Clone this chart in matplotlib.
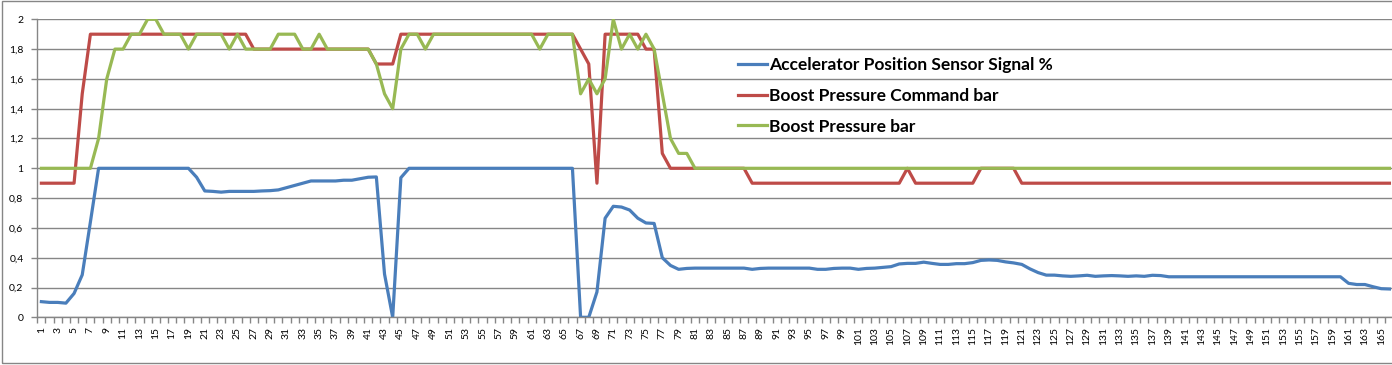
import matplotlib.pyplot as plt
from matplotlib.ticker import FixedLocator, FuncFormatter, NullFormatter
from matplotlib.patches import Rectangle

# Amostras (eixo X) e valores
samples = list(range(1, 167))
tick_labels = samples[::2]

series_names = ['Accelerator Position Sensor Signal %',
                'Boost Pressure Command bar',
                'Boost Pressure bar']

accelerator = [
    0.105, 0.10, 0.10, 0.095, 0.16, 0.285, 0.64, 1.0, 1.0, 1.0,
    1.0, 1.0, 1.0, 1.0, 1.0, 1.0, 1.0, 1.0, 1.0, 0.94,
    0.848, 0.845, 0.84, 0.845, 0.845, 0.845, 0.845, 0.848, 0.85, 0.855,
    0.87, 0.885, 0.90, 0.915, 0.915, 0.915, 0.915, 0.92, 0.92, 0.93,
    0.94, 0.942, 0.29, 0.0, 0.937, 1.0, 1.0, 1.0, 1.0, 1.0,
    1.0, 1.0, 1.0, 1.0, 1.0, 1.0, 1.0, 1.0, 1.0, 1.0,
    1.0, 1.0, 1.0, 1.0, 1.0, 1.0, 0.0, 0.0, 0.17, 0.665,
    0.745, 0.74, 0.72, 0.665, 0.633, 0.63, 0.40, 0.348, 0.322, 0.328,
    0.33, 0.33, 0.33, 0.33, 0.33, 0.33, 0.33, 0.322, 0.328, 0.33,
    0.33, 0.33, 0.33, 0.33, 0.33, 0.322, 0.322, 0.328, 0.33, 0.33,
    0.322, 0.328, 0.33, 0.335, 0.34, 0.358, 0.362, 0.362, 0.37, 0.362,
    0.355, 0.355, 0.36, 0.36, 0.367, 0.382, 0.385, 0.382, 0.372, 0.365,
    0.355, 0.325, 0.30, 0.283, 0.283, 0.278, 0.275, 0.278, 0.282, 0.275,
    0.278, 0.28, 0.278, 0.275, 0.278, 0.275, 0.282, 0.28, 0.272, 0.272,
    0.272, 0.272, 0.272, 0.272, 0.272, 0.272, 0.272, 0.272, 0.272, 0.272,
    0.272, 0.272, 0.272, 0.272, 0.272, 0.272, 0.272, 0.272, 0.272, 0.272,
    0.228, 0.22, 0.22, 0.205, 0.192, 0.19,
]

boost_command = [
    0.9, 0.9, 0.9, 0.9, 0.9, 1.5, 1.9, 1.9, 1.9, 1.9,
    1.9, 1.9, 1.9, 1.9, 1.9, 1.9, 1.9, 1.9, 1.9, 1.9,
    1.9, 1.9, 1.9, 1.9, 1.9, 1.9, 1.8, 1.8, 1.8, 1.8,
    1.8, 1.8, 1.8, 1.8, 1.8, 1.8, 1.8, 1.8, 1.8, 1.8,
    1.8, 1.7, 1.7, 1.7, 1.9, 1.9, 1.9, 1.9, 1.9, 1.9,
    1.9, 1.9, 1.9, 1.9, 1.9, 1.9, 1.9, 1.9, 1.9, 1.9,
    1.9, 1.9, 1.9, 1.9, 1.9, 1.9, 1.8, 1.7, 0.9, 1.9,
    1.9, 1.9, 1.9, 1.9, 1.8, 1.8, 1.1, 1.0, 1.0, 1.0,
    1.0, 1.0, 1.0, 1.0, 1.0, 1.0, 1.0, 0.9, 0.9, 0.9,
    0.9, 0.9, 0.9, 0.9, 0.9, 0.9, 0.9, 0.9, 0.9, 0.9,
    0.9, 0.9, 0.9, 0.9, 0.9, 0.9, 1.0, 0.9, 0.9, 0.9,
    0.9, 0.9, 0.9, 0.9, 0.9, 1.0, 1.0, 1.0, 1.0, 1.0,
    0.9, 0.9, 0.9, 0.9, 0.9, 0.9, 0.9, 0.9, 0.9, 0.9,
    0.9, 0.9, 0.9, 0.9, 0.9, 0.9, 0.9, 0.9, 0.9, 0.9,
    0.9, 0.9, 0.9, 0.9, 0.9, 0.9, 0.9, 0.9, 0.9, 0.9,
    0.9, 0.9, 0.9, 0.9, 0.9, 0.9, 0.9, 0.9, 0.9, 0.9,
    0.9, 0.9, 0.9, 0.9, 0.9, 0.9,
]

boost = [
    1.0, 1.0, 1.0, 1.0, 1.0, 1.0, 1.0, 1.2, 1.6, 1.8,
    1.8, 1.9, 1.9, 2.0, 2.0, 1.9, 1.9, 1.9, 1.8, 1.9,
    1.9, 1.9, 1.9, 1.8, 1.9, 1.8, 1.8, 1.8, 1.8, 1.9,
    1.9, 1.9, 1.8, 1.8, 1.9, 1.8, 1.8, 1.8, 1.8, 1.8,
    1.8, 1.7, 1.5, 1.4, 1.8, 1.9, 1.9, 1.8, 1.9, 1.9,
    1.9, 1.9, 1.9, 1.9, 1.9, 1.9, 1.9, 1.9, 1.9, 1.9,
    1.9, 1.8, 1.9, 1.9, 1.9, 1.9, 1.5, 1.6, 1.5, 1.6,
    2.0, 1.8, 1.9, 1.8, 1.9, 1.8, 1.5, 1.2, 1.1, 1.1,
    1.0, 1.0, 1.0, 1.0, 1.0, 1.0, 1.0, 1.0, 1.0, 1.0,
    1.0, 1.0, 1.0, 1.0, 1.0, 1.0, 1.0, 1.0, 1.0, 1.0,
    1.0, 1.0, 1.0, 1.0, 1.0, 1.0, 1.0, 1.0, 1.0, 1.0,
    1.0, 1.0, 1.0, 1.0, 1.0, 1.0, 1.0, 1.0, 1.0, 1.0,
    1.0, 1.0, 1.0, 1.0, 1.0, 1.0, 1.0, 1.0, 1.0, 1.0,
    1.0, 1.0, 1.0, 1.0, 1.0, 1.0, 1.0, 1.0, 1.0, 1.0,
    1.0, 1.0, 1.0, 1.0, 1.0, 1.0, 1.0, 1.0, 1.0, 1.0,
    1.0, 1.0, 1.0, 1.0, 1.0, 1.0, 1.0, 1.0, 1.0, 1.0,
    1.0, 1.0, 1.0, 1.0, 1.0, 1.0,
]

colors = ['#4A7EBB', '#BE4B48', '#98B954']
grid_color = '#868686'

W, H = 1392, 365
fig = plt.figure(figsize=(W / 100, H / 100), dpi=100)
plt.rcParams['font.family'] = ['Lato', 'DejaVu Sans']

# área do gráfico em pixels (o quadro continua para lá da margem direita)
left_px, top_px, bottom_px = 37.3, 19.3, 317.3
ax = fig.add_axes([left_px / W, (H - bottom_px) / H, 1 - left_px / W, (bottom_px - top_px) / H])

# moldura exterior do gráfico
fig.patches.append(Rectangle((2 / W, 2 / H), 1.2, (H - 3) / H, transform=fig.transFigure,
                             fill=False, edgecolor=grid_color, linewidth=1))

for values, name, color in zip([accelerator, boost_command, boost], series_names, colors):
    ax.plot(samples, values, color=color, linewidth=2.3, label=name, solid_joinstyle='round')

slot = 8.17
ax.set_xlim(0.5, 0.5 + (W - left_px) / slot)
ax.set_ylim(0, 2)

# grelha horizontal
ax.set_yticks([i * 0.2 for i in range(11)])
ax.yaxis.set_major_formatter(FuncFormatter(lambda v, p: f'{v:g}'.replace('.', ',')))
ax.grid(axis='y', color=grid_color, linewidth=1)
ax.set_axisbelow(True)

# eixo X: marcas entre categorias, rótulos nas categorias ímpares
ax.xaxis.set_major_locator(FixedLocator(tick_labels))
ax.set_xticklabels([str(t) for t in tick_labels], rotation=90)
ax.xaxis.set_minor_locator(FixedLocator([s - 0.5 for s in samples]))
ax.xaxis.set_minor_formatter(NullFormatter())
ax.tick_params(axis='x', which='major', length=0, pad=7, labelsize=7.5)
ax.tick_params(axis='x', which='minor', length=4, color=grid_color, width=1)
ax.tick_params(axis='y', length=4, color=grid_color, width=1, pad=6, labelsize=7.5)

for side in ['top', 'right']:
    ax.spines[side].set_visible(False)
for side in ['left', 'bottom']:
    ax.spines[side].set_color(grid_color)
    ax.spines[side].set_linewidth(1)

leg = ax.legend(loc='upper left', bbox_to_anchor=(738 / W, (H - 57) / H),
                bbox_transform=fig.transFigure, frameon=False, borderpad=0,
                borderaxespad=0, handlelength=1.65, handletextpad=0.15,
                labelspacing=0.85, prop={'family': ['Lato', 'DejaVu Sans'],
                                         'weight': 'bold', 'size': 12.5})

plt.savefig('out.png', dpi=100)
